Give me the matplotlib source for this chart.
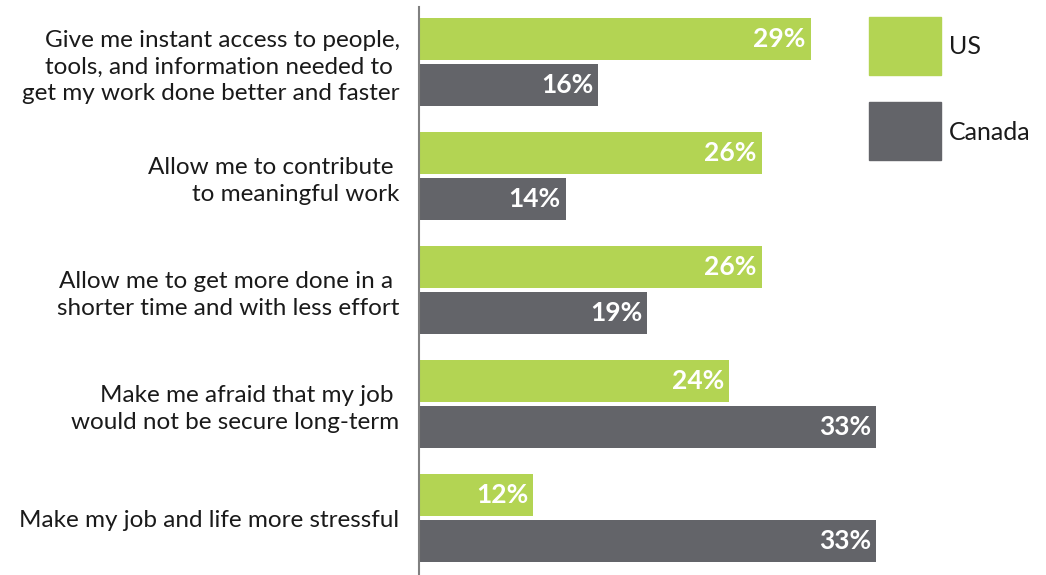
import numpy as np
import matplotlib.pyplot as plt
from matplotlib.patches import Rectangle

# survey answers, top to bottom
statements = [
    "Give me instant access to people,\ntools, and information needed to \nget my work done better and faster",
    "Allow me to contribute \nto meaningful work",
    "Allow me to get more done in a \nshorter time and with less effort",
    "Make me afraid that my job \nwould not be secure long-term",
    "Make my job and life more stressful",
]
us = [29, 26, 26, 24, 12]
canada = [16, 14, 19, 33, 33]
series_names = ["US", "Canada"]

green = "#b3d453"
grey = "#636469"
W, H = 1046, 575

plt.rcParams['font.family'] = ['Lato', 'DejaVu Sans']
fig = plt.figure(figsize=(W / 100, H / 100), dpi=100)
ax = fig.add_axes([419 / W, 0, 1 - 419 / W, 1 - 7 / H])

y = np.arange(len(statements))
h = 42 / 114
off = 23 / 114
b1 = ax.barh(y - off, us, height=h, color=green)
b2 = ax.barh(y + off, canada, height=h, color=grey)

for bars, vals in ((b1, us), (b2, canada)):
    for bar, v in zip(bars, vals):
        ax.annotate(f"{v}%", (v, bar.get_y() + bar.get_height() / 2),
                    xytext=(-5, 0), textcoords="offset pixels",
                    ha="right", va="center", color="white",
                    fontsize=19, fontweight="bold")

ax.set_xlim(5, (W - 338.5) / 16.29)
ax.set_ylim(4 + 56.5 / 114, -55 / 114)
ax.set_yticks(y)
ax.set_yticklabels(statements, fontsize=17.5, color="#1a1a1a", linespacing=1.35)
ax.tick_params(axis="y", length=0, pad=14)
ax.set_xticks([])
for s in ("top", "right", "bottom"):
    ax.spines[s].set_visible(False)
ax.spines["left"].set_color("#808080")
ax.spines["left"].set_linewidth(1.5)

# legend boxes on the right
for i, (name, col) in enumerate(zip(series_names, [green, grey])):
    top = 17 + i * 85
    fig.add_artist(Rectangle((869 / W, 1 - (top + 58) / H), 72 / W, 58 / H,
                             transform=fig.transFigure, color=col))
    fig.text(949 / W, 1 - (top + 30) / H, name, fontsize=18,
             color="#1a1a1a", va="center", ha="left")

fig.savefig("out.png", dpi=100)
